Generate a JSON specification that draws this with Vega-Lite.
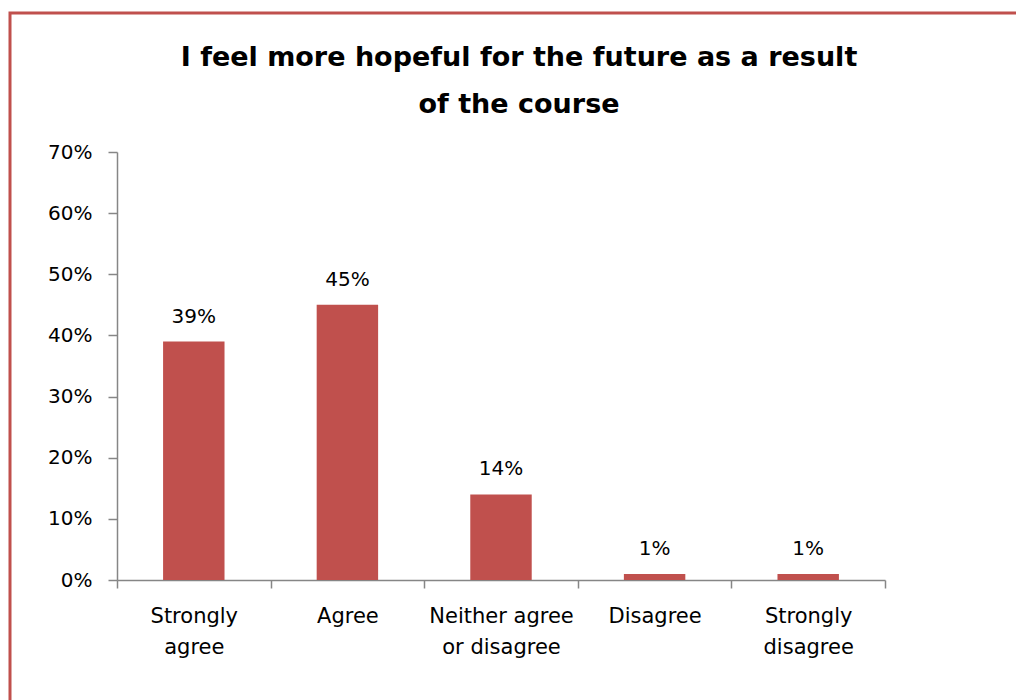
{
  "$schema": "https://vega.github.io/schema/vega-lite/v6.json",
  "width": 1018,
  "height": 700,
  "autosize": "none",
  "padding": {"left": 10, "top": 13, "right": 0, "bottom": 0},
  "background": "white",
  "title": {
    "text": ["I feel more hopeful for the future as a result", "of the course"],
    "font": "DejaVu Sans",
    "fontSize": 27,
    "fontWeight": "bold",
    "lineHeight": 47,
    "color": "black",
    "anchor": "middle",
    "offset": -106
  },
  "config": {
    "view": {"stroke": "#C0504D", "strokeWidth": 3},
    "axis": {
      "labelFont": "DejaVu Sans",
      "labelFontSize": 20,
      "labelColor": "black",
      "domainColor": "#868686",
      "tickColor": "#868686",
      "domainWidth": 1.5,
      "tickWidth": 1.5,
      "grid": false,
      "title": null
    }
  },
  "data": {
    "values": [
      {"response": "Strongly agree", "share": 0.39},
      {"response": "Agree", "share": 0.45},
      {"response": "Neither agree or disagree", "share": 0.14},
      {"response": "Disagree", "share": 0.01},
      {"response": "Strongly disagree", "share": 0.01}
    ]
  },
  "encoding": {
    "x": {
      "field": "response",
      "type": "nominal",
      "sort": null,
      "scale": {"range": [107, 875], "paddingInner": 0, "paddingOuter": 0},
      "axis": {
        "offset": -133,
        "tickBand": "extent",
        "tickSize": 8,
        "labelPadding": 17,
        "labelAngle": 0,
        "labelBaseline": "top",
        "labelLineHeight": 31,
        "labelFontSize": 21,
        "labelExpr": "datum.label == 'Neither agree or disagree' ? ['Neither agree', 'or disagree'] : split(datum.label, ' ')"
      }
    },
    "y": {
      "field": "share",
      "type": "quantitative",
      "scale": {"domain": [0, 0.7], "range": [567, 139], "nice": false, "zero": true},
      "axis": {
        "offset": -107,
        "values": [0, 0.1, 0.2, 0.3, 0.4, 0.5, 0.6, 0.7],
        "format": ".0%",
        "tickSize": 9,
        "labelPadding": 16
      }
    }
  },
  "layer": [
    {
      "mark": {"type": "bar", "color": "#C0504D", "width": {"band": 0.4}}
    },
    {
      "mark": {"type": "text", "font": "DejaVu Sans", "fontSize": 20, "color": "black", "baseline": "alphabetic", "dy": -19},
      "encoding": {
        "text": {"field": "share", "type": "quantitative", "format": ".0%"}
      }
    }
  ]
}
